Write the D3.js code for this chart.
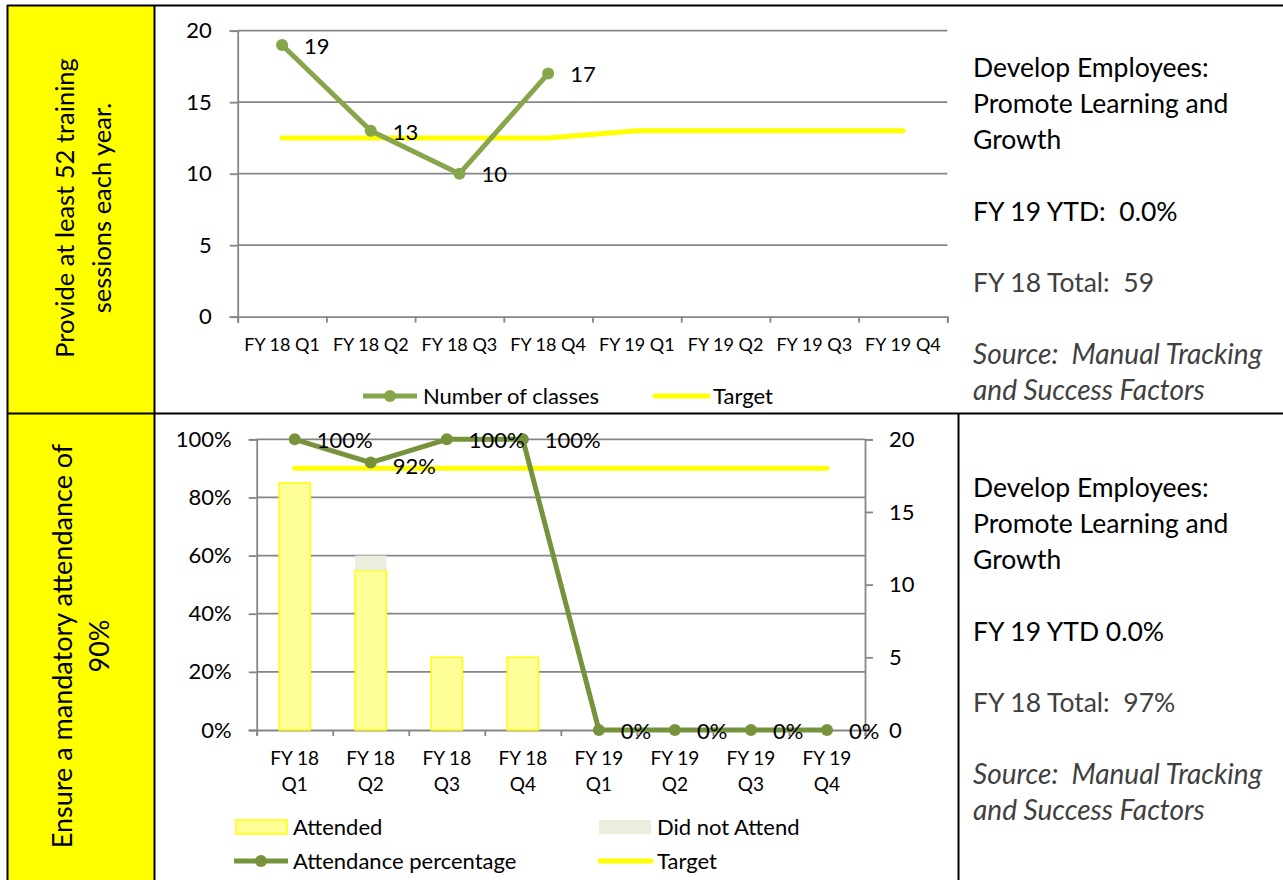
<!DOCTYPE html>
<html>
<head>
<meta charset="utf-8">
<script src="https://cdn.jsdelivr.net/npm/d3@7"></script>
<style>
body { margin: 0; background: #fff; }
svg text { font-family: Lato, "Liberation Sans", sans-serif; white-space: pre; }
</style>
</head>
<body>
<svg id="drawing_region"></svg>
<script>
// data
const quarters = ["FY 18 Q1", "FY 18 Q2", "FY 18 Q3", "FY 18 Q4", "FY 19 Q1", "FY 19 Q2", "FY 19 Q3", "FY 19 Q4"];
const classCounts = [19, 13, 10, 17];
const classTarget = [12.5, 12.5, 12.5, 12.5, 13, 13, 13, 13];
const classTicks = [0, 5, 10, 15, 20];

const attended = [17, 11, 5, 5, 0, 0, 0, 0];
const didNotAttend = [0, 1, 0, 0, 0, 0, 0, 0];
const attendancePct = [1.00, 0.92, 1.00, 1.00, 0, 0, 0, 0];
const attendanceTarget = [0.9, 0.9, 0.9, 0.9, 0.9, 0.9, 0.9, 0.9];
const pctTicks = [0, 0.2, 0.4, 0.6, 0.8, 1.0];
const countTicks = [0, 5, 10, 15, 20];

const rowLabels = [
    ["Provide at least 52 training", "sessions each year."],
    ["Ensure a mandatory attendance of", "90%"]
];
const sideTexts = [
    { heading: ["Develop Employees:", "Promote Learning and", "Growth"], ytd: "FY 19 YTD:  0.0%", total: "FY 18 Total:  59" },
    { heading: ["Develop Employees:", "Promote Learning and", "Growth"], ytd: "FY 19 YTD 0.0%", total: "FY 18 Total:  97%" }
];
const sourceText = ["Source:  Manual Tracking", "and Success Factors"];

const GRID = '#868686';
const GREEN_TOP = '#87a54b';
const GREEN_BOT = '#76923c';
const YELLOW = '#ffff00';
const FS = 22;

const svg = d3.select('#drawing_region')
    .attr('width', 1283)
    .attr('height', 880);

svg.append('rect').attr('width', 1283).attr('height', 880).attr('fill', '#fff');

// ---- table cells
svg.append('rect').attr('x', 8).attr('y', 6).attr('width', 146).attr('height', 407).attr('fill', YELLOW);
svg.append('rect').attr('x', 8).attr('y', 414).attr('width', 146).attr('height', 466).attr('fill', YELLOW);

const borders = [
    [7, 5.5, 1283, 5.5],
    [7, 413.5, 1283, 413.5],
    [7.5, 5, 7.5, 880],
    [154.5, 5, 154.5, 880],
    [958.5, 413, 958.5, 880]
];
svg.selectAll('.border')
    .data(borders)
    .enter()
    .append('line')
    .attr('x1', d => d[0]).attr('y1', d => d[1])
    .attr('x2', d => d[2]).attr('y2', d => d[3])
    .attr('stroke', '#000')
    .attr('stroke-width', 2);

// rotated row labels
const labelPos = [{ x: 83.5, y: 208, size: 25.5 }, { x: 81.5, y: 646, size: 27 }];
rowLabels.forEach((lines, i) => {
    const p = labelPos[i];
    const t = svg.append('text')
        .attr('transform', `translate(${p.x}, ${p.y}) rotate(-90)`)
        .attr('text-anchor', 'middle')
        .attr('font-size', p.size);
    lines.forEach((s, j) => {
        t.append('tspan')
            .attr('x', 0)
            .attr('y', (j - (lines.length - 1) / 2) * 37)
            .attr('dy', '0.35em')
            .text(s);
    });
});

// side texts
const sideTops = [68, 488];
sideTexts.forEach((s, i) => {
    const y0 = sideTops[i];
    const g = svg.append('g').attr('transform', `translate(973, ${y0})`);
    s.heading.forEach((line, j) => {
        g.append('text').attr('y', j * 36).attr('dy', '0.35em')
            .attr('font-size', 26.5).attr('fill', '#000').text(line);
    });
    g.append('text').attr('y', 144).attr('dy', '0.35em')
        .attr('font-size', 26.5).attr('fill', '#000').text(s.ytd);
    g.append('text').attr('y', 215).attr('dy', '0.35em')
        .attr('font-size', 26.5).attr('fill', '#404040').text(s.total);
    sourceText.forEach((line, j) => {
        g.append('text').attr('y', 286 + j * 36).attr('dy', '0.35em')
            .attr('font-size', 28).attr('font-style', 'italic')
            .attr('fill', '#404040').text(line);
    });
});

// ---- top chart: number of classes
function drawTopChart() {
    const left = 237.7, right = 947.3, top = 30.7, bottom = 316.7;
    const g = svg.append('g');

    const xscale = d3.scaleBand().domain(quarters).range([left, right]);
    const xidx = d3.scaleLinear().domain([0, quarters.length]).range([left, right]);
    const yscale = d3.scaleLinear().domain([0, 20]).range([bottom, top]);
    const cx = d => xscale(d) + xscale.bandwidth() / 2;

    // grid
    g.append('g')
        .selectAll('line')
        .data(classTicks.filter(v => v > 0))
        .enter()
        .append('line')
        .attr('x1', left).attr('x2', right)
        .attr('y1', d => yscale(d)).attr('y2', d => yscale(d))
        .attr('stroke', GRID).attr('stroke-width', 1.8);

    const yaxis = d3.axisLeft(yscale).tickValues(classTicks).tickSize(8).tickPadding(18);
    const yg = g.append('g').attr('transform', `translate(${left},0)`).call(yaxis);
    yg.selectAll('text').attr('font-size', FS).attr('fill', '#000');

    const xaxis = d3.axisBottom(xidx).tickValues(d3.range(quarters.length + 1)).tickFormat('').tickSize(6);
    const xg = g.append('g').attr('transform', `translate(0,${bottom})`).call(xaxis);

    [yg, xg].forEach(a => {
        a.selectAll('path, line').attr('stroke', GRID).attr('stroke-width', 1.8);
    });

    g.selectAll('.xlabel')
        .data(quarters)
        .enter()
        .append('text')
        .attr('x', d => cx(d))
        .attr('y', 345)
        .attr('dy', '0.35em')
        .attr('text-anchor', 'middle')
        .attr('font-size', 18)
        .text(d => d);

    // target
    const line = d3.line().x(d => cx(d.q)).y(d => yscale(d.v));
    g.append('path')
        .datum(classTarget.map((v, i) => ({ q: quarters[i], v: v })))
        .attr('d', line)
        .attr('fill', 'none')
        .attr('stroke', YELLOW)
        .attr('stroke-width', 5)
        .attr('stroke-linecap', 'round')
        .attr('stroke-linejoin', 'round');

    // classes
    const pts = classCounts.map((v, i) => ({ q: quarters[i], v: v }));
    g.append('path')
        .datum(pts)
        .attr('d', line)
        .attr('fill', 'none')
        .attr('stroke', GREEN_TOP)
        .attr('stroke-width', 5)
        .attr('stroke-linejoin', 'round');
    g.selectAll('.pt')
        .data(pts)
        .enter()
        .append('circle')
        .attr('cx', d => cx(d.q))
        .attr('cy', d => yscale(d.v))
        .attr('r', 6)
        .attr('fill', GREEN_TOP);
    g.selectAll('.lbl')
        .data(pts)
        .enter()
        .append('text')
        .attr('x', d => cx(d.q) + 22)
        .attr('y', d => yscale(d.v) + 1)
        .attr('dy', '0.35em')
        .attr('font-size', FS)
        .text(d => d.v);

    // legend
    const lg = g.append('g').attr('transform', 'translate(0,396)');
    lg.append('line').attr('x1', 363).attr('x2', 417).attr('stroke', GREEN_TOP).attr('stroke-width', 5);
    lg.append('circle').attr('cx', 390).attr('r', 6).attr('fill', GREEN_TOP);
    lg.append('text').attr('x', 423).attr('dy', '0.35em').attr('font-size', FS).text('Number of classes');
    lg.append('line').attr('x1', 655).attr('x2', 708).attr('stroke', YELLOW).attr('stroke-width', 5).attr('stroke-linecap', 'round');
    lg.append('text').attr('x', 713).attr('dy', '0.35em').attr('font-size', FS).text('Target');
}

// ---- bottom chart: attendance
function drawBottomChart() {
    const left = 256.7, right = 865, top = 439.3, bottom = 730;
    const g = svg.append('g');

    const xscale = d3.scaleBand().domain(quarters).range([left, right]);
    const xidx = d3.scaleLinear().domain([0, quarters.length]).range([left, right]);
    const ypct = d3.scaleLinear().domain([0, 1]).range([bottom, top]);
    const ycount = d3.scaleLinear().domain([0, 20]).range([bottom, top]);
    const cx = d => xscale(d) + xscale.bandwidth() / 2;
    const barW = xscale.bandwidth() * 0.41;

    g.append('g')
        .selectAll('line')
        .data(pctTicks.filter(v => v > 0))
        .enter()
        .append('line')
        .attr('x1', left).attr('x2', right)
        .attr('y1', d => ypct(d)).attr('y2', d => ypct(d))
        .attr('stroke', GRID).attr('stroke-width', 1.8);

    const yl = g.append('g').attr('transform', `translate(${left},0)`)
        .call(d3.axisLeft(ypct).tickValues(pctTicks).tickFormat(d3.format('.0%')).tickSize(8).tickPadding(17));
    const yr = g.append('g').attr('transform', `translate(${right},0)`)
        .call(d3.axisRight(ycount).tickValues(countTicks).tickSize(8).tickPadding(16));
    const xg = g.append('g').attr('transform', `translate(0,${bottom})`)
        .call(d3.axisBottom(xidx).tickValues(d3.range(quarters.length + 1)).tickFormat('').tickSize(6));
    [yl, yr, xg].forEach(a => {
        a.selectAll('path, line').attr('stroke', GRID).attr('stroke-width', 1.8);
        a.selectAll('text').attr('font-size', FS).attr('fill', '#000');
    });

    const xl = g.selectAll('.xlabel')
        .data(quarters)
        .enter()
        .append('text')
        .attr('text-anchor', 'middle')
        .attr('font-size', 19);
    xl.append('tspan').attr('x', d => cx(d)).attr('y', 758).attr('dy', '0.35em')
        .text(d => d.slice(0, d.lastIndexOf(' ')));
    xl.append('tspan').attr('x', d => cx(d)).attr('y', 784).attr('dy', '0.35em')
        .text(d => d.slice(d.lastIndexOf(' ') + 1));

    // stacked bars on the right axis
    const bars = quarters.map((q, i) => ({ q: q, a: attended[i], n: didNotAttend[i] }));
    g.selectAll('.bar-a')
        .data(bars.filter(d => d.a > 0))
        .enter()
        .append('rect')
        .attr('x', d => cx(d.q) - barW / 2)
        .attr('y', d => ycount(d.a))
        .attr('width', barW)
        .attr('height', d => ycount(0) - ycount(d.a))
        .attr('fill', '#ffff99')
        .attr('stroke', YELLOW)
        .attr('stroke-width', 1.5);
    g.selectAll('.bar-n')
        .data(bars.filter(d => d.n > 0))
        .enter()
        .append('rect')
        .attr('x', d => cx(d.q) - barW / 2)
        .attr('y', d => ycount(d.a + d.n))
        .attr('width', barW)
        .attr('height', d => ycount(d.a) - ycount(d.a + d.n))
        .attr('fill', '#ebeedd');

    const line = d3.line().x(d => cx(d.q)).y(d => ypct(d.v));
    g.append('path')
        .datum(attendanceTarget.map((v, i) => ({ q: quarters[i], v: v })))
        .attr('d', line)
        .attr('fill', 'none')
        .attr('stroke', YELLOW)
        .attr('stroke-width', 5)
        .attr('stroke-linecap', 'round');

    const pts = attendancePct.map((v, i) => ({ q: quarters[i], v: v }));
    g.append('path')
        .datum(pts)
        .attr('d', line)
        .attr('fill', 'none')
        .attr('stroke', GREEN_BOT)
        .attr('stroke-width', 5)
        .attr('stroke-linejoin', 'round');
    g.selectAll('.pt')
        .data(pts)
        .enter()
        .append('circle')
        .attr('cx', d => cx(d.q))
        .attr('cy', d => ypct(d.v))
        .attr('r', 6)
        .attr('fill', GREEN_BOT);
    g.selectAll('.lbl')
        .data(pts)
        .enter()
        .append('text')
        .attr('x', d => cx(d.q) + 22)
        .attr('y', d => ypct(d.v) + 1 + (d.v < 1 && d.v > 0 ? 3 : 0))
        .attr('dy', '0.35em')
        .attr('font-size', FS)
        .text(d => d3.format('.0%')(d.v));

    // legend
    const lg = g.append('g');
    lg.append('rect').attr('x', 236).attr('y', 820).attr('width', 51).attr('height', 14)
        .attr('fill', '#ffff99').attr('stroke', YELLOW).attr('stroke-width', 1.5);
    lg.append('text').attr('x', 293).attr('y', 827).attr('dy', '0.35em').attr('font-size', FS).text('Attended');
    lg.append('rect').attr('x', 599).attr('y', 820).attr('width', 52).attr('height', 14).attr('fill', '#ebeedd');
    lg.append('text').attr('x', 657).attr('y', 827).attr('dy', '0.35em').attr('font-size', FS).text('Did not Attend');
    lg.append('line').attr('x1', 234).attr('x2', 288).attr('y1', 861).attr('y2', 861).attr('stroke', GREEN_BOT).attr('stroke-width', 5);
    lg.append('circle').attr('cx', 261).attr('cy', 861).attr('r', 6).attr('fill', GREEN_BOT);
    lg.append('text').attr('x', 293).attr('y', 861).attr('dy', '0.35em').attr('font-size', FS).text('Attendance percentage');
    lg.append('line').attr('x1', 600).attr('x2', 651).attr('y1', 861).attr('y2', 861).attr('stroke', YELLOW).attr('stroke-width', 5).attr('stroke-linecap', 'round');
    lg.append('text').attr('x', 657).attr('y', 861).attr('dy', '0.35em').attr('font-size', FS).text('Target');
}

drawTopChart();
drawBottomChart();
</script>
</body>
</html>
